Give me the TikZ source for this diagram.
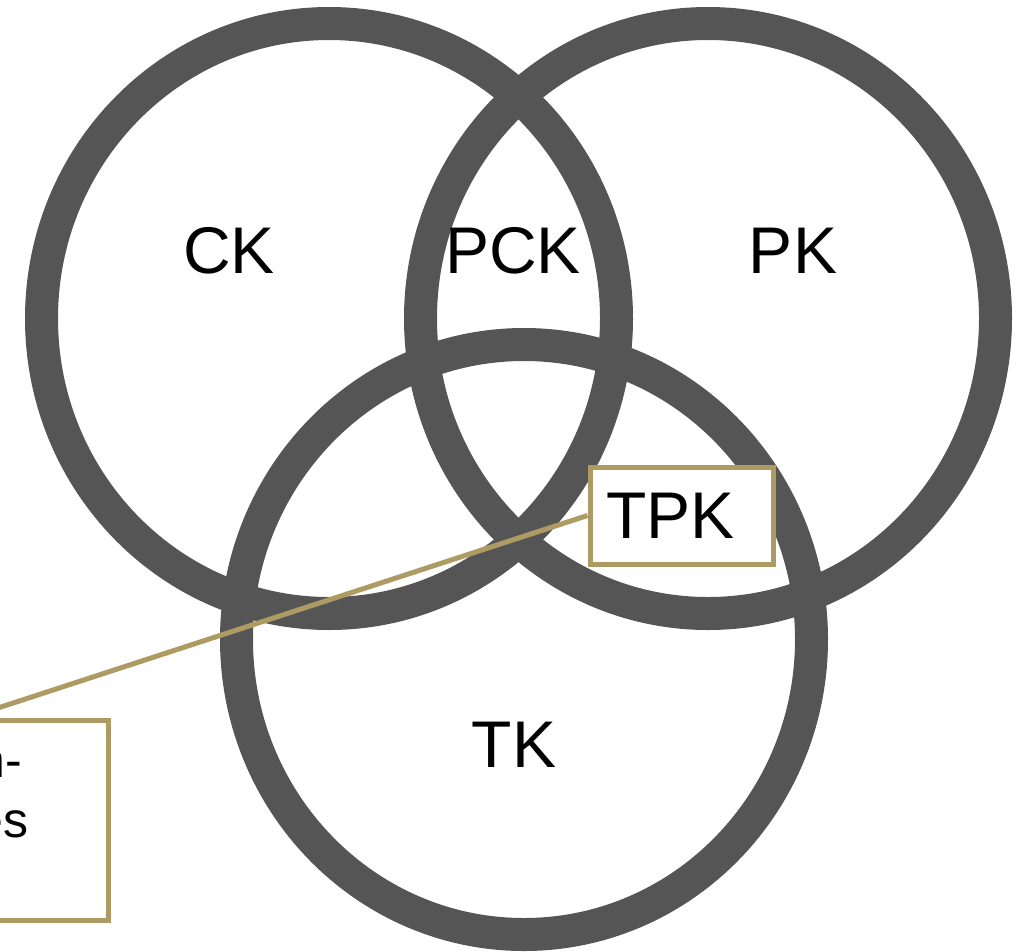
\documentclass[tikz,border=0pt]{standalone}
\usepackage{fontspec}
\setmainfont{Liberation Sans}
\definecolor{ringgray}{HTML}{555555}
\definecolor{gold}{HTML}{AD9B63}
\begin{document}
\begin{tikzpicture}[x=1pt,y=-1pt,
  ring/.style={draw=ringgray,line width=33pt},
  lbl/.style={font=\fontsize{66}{79}\selectfont,inner sep=0pt},
  small/.style={font=\fontsize{50}{60}\selectfont,inner sep=0pt},
  callout/.style={draw=gold,line width=5pt,fill=white,inner sep=0pt},
  leader/.style={draw=gold,line width=5pt}]
\useasboundingbox (0,0) rectangle (1028,951);
\coordinate (cc) at (329,318.5);
\coordinate (pc) at (708,318.5);
\coordinate (tc) at (524,639.5);
\draw[ring] (cc) ellipse [x radius=287.5pt, y radius=295pt];
\draw[ring] (pc) ellipse [x radius=287.5pt, y radius=295pt];
\draw[ring] (tc) ellipse [x radius=287.5pt, y radius=295pt];
\node[lbl] (ck) at (229,251) {CK};
\node[lbl] (pck) at (513,251) {PCK};
\node[lbl] (pk) at (793,251) {PK};
\node[lbl] (tk) at (514,745) {TK};
\node[callout,minimum width=183pt,minimum height=97pt] (tpkbox) at (681.5,515.5) {};
\coordinate (tcend) at (-45,722);
\draw[leader] (tpkbox.west) -- (tcend);
\node[lbl] (tpk) at (670.5,516) {TPK};
\node[callout,minimum width=368.5pt,minimum height=199.5pt] (tcbox) at (-75.75,820.25) {};
\node[small,anchor=base east] (l1) at (22,777) {n-};
\node[small,anchor=base east] (l2) at (28.5,837) {es};
\end{tikzpicture}
\end{document}
